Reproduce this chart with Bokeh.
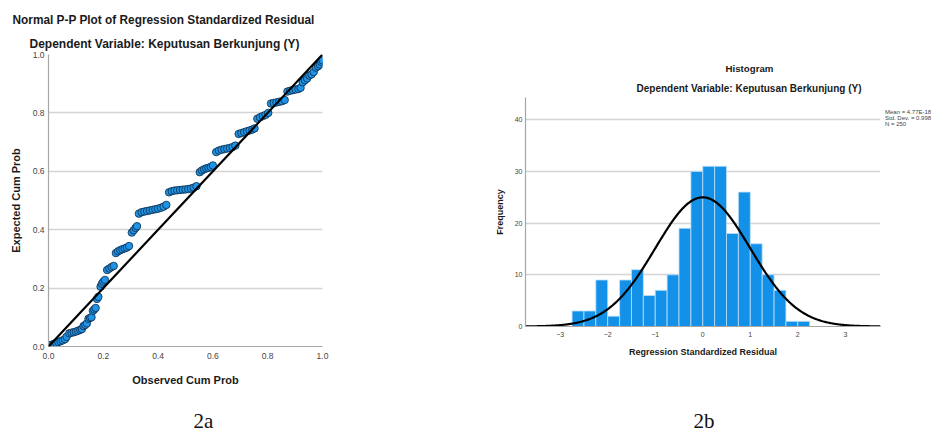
import numpy as np
from bokeh.plotting import figure
from bokeh.layouts import row, column
from bokeh.models import (Title, Slope, FixedTicker, Range1d, PrintfTickFormatter,
                          Legend, LegendItem, LinearAxis)
from bokeh.core.properties import value
from bokeh.embed import file_html
from bokeh.resources import INLINE

# ---------------- data: Normal P-P plot ----------------
obs_cum = [0.004, 0.012, 0.02, 0.028, 0.036, 0.044, 0.052, 0.06,
           0.066,
           0.076, 0.084, 0.092, 0.1, 0.108, 0.116, 0.122,
           0.128, 0.134, 0.14,
           0.146, 0.152, 0.157,
           0.162, 0.167, 0.172,
           0.177, 0.182,
           0.19, 0.195, 0.2, 0.206,
           0.214, 0.222, 0.23, 0.238,
           0.246, 0.254, 0.262, 0.27, 0.278, 0.286, 0.294,
           0.304, 0.311, 0.318, 0.323,
           0.33, 0.34, 0.35, 0.36, 0.37, 0.38, 0.39, 0.4, 0.41, 0.42, 0.43,
           0.44, 0.45, 0.46, 0.47, 0.48, 0.49, 0.5, 0.51, 0.52, 0.53, 0.54,
           0.552, 0.56, 0.568, 0.576, 0.584, 0.592, 0.6,
           0.612, 0.622, 0.632, 0.642, 0.652, 0.662, 0.672, 0.682,
           0.694, 0.704, 0.714, 0.724, 0.734, 0.744, 0.752,
           0.762, 0.772, 0.782, 0.792, 0.802,
           0.812, 0.822, 0.832, 0.842, 0.852, 0.862,
           0.872, 0.882, 0.892, 0.902, 0.912, 0.92,
           0.928, 0.936, 0.944,
           0.952, 0.96, 0.968,
           0.976, 0.984, 0.99,
           0.995, 1.0]
exp_cum = [0.003, 0.006, 0.009, 0.012, 0.015, 0.018, 0.021, 0.025,
           0.033,
           0.045, 0.047, 0.049, 0.051, 0.054, 0.057, 0.06,
           0.07, 0.074, 0.079,
           0.095, 0.098, 0.1,
           0.122, 0.127, 0.132,
           0.163, 0.17,
           0.205, 0.215, 0.222, 0.228,
           0.262, 0.267, 0.272, 0.276,
           0.32, 0.326, 0.33, 0.333, 0.336, 0.339, 0.344,
           0.39, 0.398, 0.406, 0.412,
           0.455, 0.46, 0.462, 0.464, 0.466, 0.468, 0.47, 0.472, 0.475, 0.479, 0.485,
           0.528, 0.532, 0.534, 0.535, 0.536, 0.537, 0.538, 0.539, 0.541, 0.544, 0.549,
           0.597, 0.603, 0.607, 0.61, 0.612, 0.615, 0.62,
           0.666, 0.671, 0.674, 0.676, 0.678, 0.68, 0.683, 0.688,
           0.728, 0.731, 0.734, 0.737, 0.74, 0.743, 0.747,
           0.78, 0.785, 0.789, 0.793, 0.8,
           0.832, 0.834, 0.836, 0.838, 0.84, 0.844,
           0.873, 0.876, 0.878, 0.88, 0.882, 0.886,
           0.905, 0.912, 0.918,
           0.928, 0.932, 0.94,
           0.955, 0.96, 0.966,
           0.975, 0.98]
pp_ticks = [0.0, 0.2, 0.4, 0.6, 0.8, 1.0]

# ---------------- data: histogram ----------------
bin_left = [-2.75, -2.5, -2.25, -2.0, -1.75, -1.5, -1.25, -1.0, -0.75, -0.5,
            -0.25, 0.0, 0.25, 0.5, 0.75, 1.0, 1.25, 1.5, 1.75, 2.0]
bin_width = 0.25
freq = [3, 3, 9, 2, 9, 11, 6, 7, 10, 19, 30, 31, 31, 18, 26, 16, 10, 7, 1, 1]
resid_mean = 4.77e-18
resid_sd = 0.998
n_obs = 250
stats_text = ["Mean = 4.77E-18", "Std. Dev. = 0.998", "N = 250"]
hist_xticks = [-3, -2, -1, 0, 1, 2, 3]
hist_yticks = [0, 10, 20, 30, 40]

FONT = "Liberation Sans"
TICK_COLOR = "#444444"
AXIS_COLOR = "#a6a6a6"
GRID_COLOR = "#d4d4d4"


def style_axes(p, tick_size, label_size):
    for ax in (p.xaxis[0], p.yaxis[0]):
        ax.axis_line_color = AXIS_COLOR
        ax.axis_line_width = 1.2
        ax.major_tick_line_color = None
        ax.minor_tick_line_color = None
        ax.major_tick_out = 0
        ax.major_tick_in = 0
        ax.major_label_text_font = FONT
        ax.major_label_text_font_size = tick_size
        ax.major_label_text_color = TICK_COLOR
        ax.axis_label_text_font = FONT
        ax.axis_label_text_font_size = label_size
        ax.axis_label_text_font_style = "bold"
        ax.axis_label_text_color = "#1a1a1a"
    p.xgrid.grid_line_color = None
    p.ygrid.grid_line_color = GRID_COLOR
    p.ygrid.grid_line_width = 1.3


def add_gap(p, gap, at):
    # blank white-tick axis below the real one, used only as vertical spacing
    ax = LinearAxis(ticker=FixedTicker(ticks=[at]), axis_line_color=None,
                    major_tick_line_color="#ffffff", minor_tick_line_color=None,
                    major_tick_out=gap, major_tick_in=0, minor_tick_out=0,
                    major_label_standoff=0, major_label_overrides={at: ""},
                    major_label_text_font_size="1px")
    p.add_layout(ax, "below")


# ---------------- left: P-P plot ----------------
p1 = figure(frame_width=274, frame_height=292,
            x_range=Range1d(0, 1), y_range=Range1d(0, 1),
            min_border_left=48, min_border_right=138,
            min_border_top=54, min_border_bottom=88,
            output_backend="svg", toolbar_location=None,
            outline_line_color=None, background_fill_color="white")
style_axes(p1, "8.5px", "11px")
p1.xaxis[0].ticker = FixedTicker(ticks=pp_ticks)
p1.yaxis[0].ticker = FixedTicker(ticks=pp_ticks)
p1.xaxis[0].formatter = PrintfTickFormatter(format="%.1f")
p1.yaxis[0].formatter = PrintfTickFormatter(format="%.1f")
p1.xaxis[0].axis_label = "Observed Cum Prob"
p1.yaxis[0].axis_label = "Expected Cum Prob"
p1.xaxis[0].major_label_standoff = 6
p1.xaxis[0].axis_label_standoff = 12
p1.yaxis[0].major_label_standoff = 4
p1.yaxis[0].axis_label_standoff = 8

p1.add_layout(Slope(gradient=1, y_intercept=0, line_color="black", line_width=2.2))
p1.scatter(obs_cum, exp_cum, size=7.5, fill_color="#1f93e6",
           line_color="#0b2a48", line_width=0.8)

p1.add_layout(Title(text="Dependent Variable: Keputusan Berkunjung (Y)",
                    text_font=FONT, text_font_size="12px", text_font_style="bold",
                    align="left", offset=-19, standoff=8, text_color="#1a1a1a"), "above")
p1.add_layout(Title(text="Normal P-P Plot of Regression Standardized Residual",
                    text_font=FONT, text_font_size="11.85px", text_font_style="bold",
                    align="left", offset=-36, standoff=8, text_color="#1a1a1a"), "above")
add_gap(p1, 18, 0.5)
p1.add_layout(Title(text="2a", text_font="Liberation Serif", text_font_size="21px",
                    text_font_style="normal", align="left", offset=145, standoff=0,
                    text_color="#111111"), "below")

# ---------------- right: histogram ----------------
p2 = figure(frame_width=355, frame_height=229,
            x_range=Range1d(-3.73, 3.74), y_range=Range1d(0, 44.3),
            min_border_left=65, min_border_right=67,
            min_border_top=97, min_border_bottom=108,
            output_backend="svg", toolbar_location=None,
            outline_line_color=None, background_fill_color="white")
style_axes(p2, "7px", "9px")
p2.xaxis[0].ticker = FixedTicker(ticks=hist_xticks)
p2.yaxis[0].ticker = FixedTicker(ticks=hist_yticks)
p2.xaxis[0].axis_label = "Regression Standardized Residual"
p2.yaxis[0].axis_label = "Frequency"
p2.xaxis[0].major_label_standoff = 5
p2.xaxis[0].axis_label_standoff = 7
p2.yaxis[0].major_label_standoff = 3
p2.yaxis[0].axis_label_standoff = 7

bin_right = [b + bin_width for b in bin_left]
p2.quad(left=bin_left, right=bin_right, bottom=0, top=freq,
        fill_color="#1390e8", line_color="#bfe0f7", line_width=0.8)

# fitted normal curve from the stated mean, std. dev. and N
cx = np.linspace(-3.73, 3.74, 400)
cy = n_obs * bin_width / (resid_sd * np.sqrt(2 * np.pi)) * np.exp(-0.5 * ((cx - resid_mean) / resid_sd) ** 2)
curve = p2.line(cx, cy, line_color="black", line_width=2.2)

stats_legend = Legend(items=[LegendItem(label=value(s), renderers=[curve]) for s in stats_text],
                      location=(5, 199), orientation="vertical",
                      glyph_width=0, glyph_height=6, label_height=6, label_width=10,
                      label_standoff=0, spacing=0, padding=0, margin=0,
                      label_text_font=FONT, label_text_font_size="6px",
                      label_text_color="#444444", border_line_color=None,
                      background_fill_alpha=0)
p2.add_layout(stats_legend, "right")

p2.add_layout(Title(text="Dependent Variable: Keputusan Berkunjung (Y)",
                    text_font=FONT, text_font_size="10px", text_font_style="bold",
                    align="left", offset=111, standoff=7, text_color="#1a1a1a"), "above")
p2.add_layout(Title(text="Histogram", text_font=FONT, text_font_size="9.7px",
                    text_font_style="bold", align="left", offset=200, standoff=8,
                    text_color="#1a1a1a"), "above")
add_gap(p2, 47, 0.0)
p2.add_layout(Title(text="2b", text_font="Liberation Serif", text_font_size="21px",
                    text_font_style="normal", align="left", offset=168, standoff=0,
                    text_color="#111111"), "below")

layout = row(column(p1), column(p2))
open("out.html", "w").write(file_html(layout, INLINE))
